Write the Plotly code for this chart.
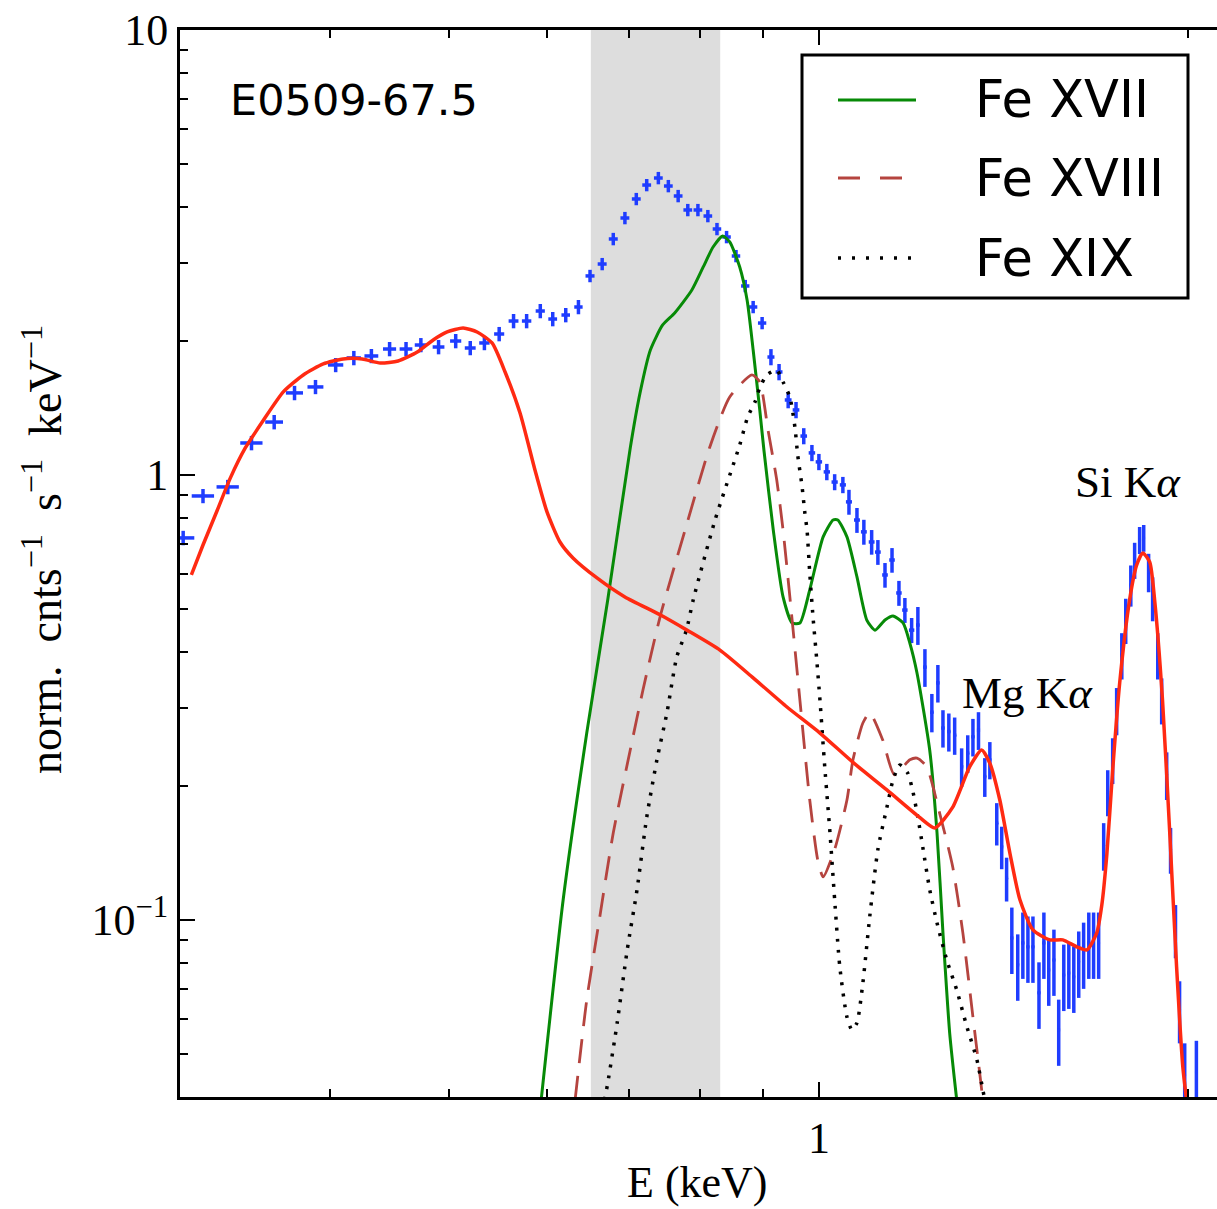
import math
import plotly.graph_objects as go

# ---------------- data (keV, norm. counts s^-1 keV^-1) ----------------
energy = [0.3035, 0.315, 0.330, 0.345, 0.360, 0.374, 0.389, 0.404, 0.418, 0.432,
          0.447, 0.461, 0.474, 0.490, 0.506, 0.520, 0.534, 0.549, 0.564, 0.578,
          0.593, 0.607, 0.622, 0.637, 0.651, 0.666, 0.680, 0.695, 0.710, 0.724,
          0.740, 0.754, 0.768, 0.782, 0.797, 0.812, 0.826, 0.841, 0.856, 0.871,
          0.884, 0.899, 0.914, 0.928, 0.944, 0.958, 0.972, 0.987, 1.000, 1.015,
          1.030, 1.046, 1.058, 1.074, 1.088, 1.104, 1.117, 1.132, 1.147, 1.162,
          1.175, 1.190, 1.204, 1.220, 1.236, 1.250, 1.262, 1.276, 1.290, 1.307,
          1.322, 1.335, 1.349, 1.365, 1.378, 1.396, 1.409, 1.422, 1.436, 1.452,
          1.466, 1.480, 1.494, 1.511, 1.525, 1.539, 1.554, 1.568, 1.583, 1.598,
          1.613, 1.628, 1.643, 1.659, 1.674, 1.690, 1.706, 1.719, 1.735, 1.748,
          1.765, 1.778, 1.795, 1.808, 1.825, 1.839, 1.856, 1.870, 1.888, 1.902,
          1.920, 1.934, 1.952, 1.967, 1.986, 2.030]

counts = [0.722, 0.897, 0.940, 1.180, 1.315, 1.529, 1.577, 1.767, 1.832, 1.851,
          1.919, 1.919, 1.959, 1.939, 2.000, 1.929, 1.980, 2.074, 2.218, 2.218,
          2.336, 2.241, 2.288, 2.385, 2.801, 2.979, 3.391, 3.780, 4.171, 4.483,
          4.649, 4.460, 4.236, 3.940, 3.940, 3.819, 3.571, 3.426, 3.105, 2.659,
          2.385, 2.195, 1.841, 1.704, 1.474, 1.400, 1.223, 1.121, 1.070, 1.016,
          0.964, 0.950, 0.870, 0.792, 0.745, 0.707, 0.671, 0.596, 0.644, 0.543,
          0.497, 0.448, 0.460, 0.370, 0.293, 0.341, 0.270, 0.265, 0.260, 0.221,
          0.237, 0.258, 0.267, 0.210, 0.229, 0.165, 0.146, 0.124, 0.0911, 0.0793,
          0.0888, 0.0870, 0.0870, 0.0686, 0.0888, 0.0772, 0.0813, 0.0566, 0.0752, 0.0760,
          0.0745, 0.0805, 0.0843, 0.0888, 0.0888, 0.0888, 0.147, 0.194, 0.229, 0.296,
          0.394, 0.472, 0.566, 0.644, 0.714, 0.722, 0.605, 0.529, 0.394, 0.312,
          0.212, 0.144, 0.0950, 0.0628, 0.0448, 0.0455]

counts_err = [0.027, 0.033, 0.035, 0.044, 0.049, 0.057, 0.058, 0.065, 0.068, 0.068,
              0.071, 0.071, 0.072, 0.072, 0.074, 0.071, 0.073, 0.077, 0.082, 0.082,
              0.086, 0.083, 0.085, 0.088, 0.090, 0.095, 0.109, 0.121, 0.133, 0.143,
              0.149, 0.143, 0.136, 0.126, 0.126, 0.122, 0.114, 0.110, 0.099, 0.085,
              0.076, 0.070, 0.077, 0.072, 0.062, 0.059, 0.051, 0.047, 0.045, 0.043,
              0.040, 0.040, 0.056, 0.051, 0.048, 0.045, 0.043, 0.038, 0.041, 0.035,
              0.032, 0.029, 0.045, 0.036, 0.029, 0.033, 0.026, 0.026, 0.025, 0.022,
              0.023, 0.025, 0.026, 0.021, 0.022, 0.018, 0.016, 0.014, 0.0155, 0.0135,
              0.0151, 0.0148, 0.0148, 0.0117, 0.0151, 0.0131, 0.0138, 0.0096, 0.0128, 0.0129,
              0.0127, 0.0137, 0.0143, 0.0151, 0.0151, 0.0151, 0.018, 0.023, 0.027, 0.036,
              0.047, 0.055, 0.060, 0.060, 0.050, 0.050, 0.060, 0.060, 0.047, 0.037,
              0.026, 0.017, 0.013, 0.010, 0.008, 0.008]

energy_err = [0.0064, 0.0066, 0.0069, 0.0072, 0.0060, 0.0060, 0.0058, 0.0058, 0.0056, 0.0056,
              0.0055, 0.0055, 0.0054, 0.0054, 0.0053, 0.0053, 0.0052, 0.0052, 0.0052, 0.0051,
              0.0051, 0.0050, 0.0050, 0.0050, 0.0055, 0.0056, 0.0057, 0.0058, 0.0059, 0.0060,
              0.0061, 0.0062, 0.0063, 0.0064, 0.0065, 0.0066, 0.0066, 0.0067, 0.0068, 0.0068,
              0.0069, 0.0070, 0.0060, 0.0060, 0.0060, 0.0060, 0.0060, 0.0060, 0.0060, 0.0060,
              0.0060, 0.0060, 0.0060, 0.0060, 0.0060, 0.0060, 0.0060, 0.0060, 0.0060, 0.0060,
              0.0060, 0.0060, 0.0040, 0.0040, 0.0040, 0.0040, 0.0040, 0.0040, 0.0040, 0.0040,
              0.0040, 0.0040, 0.0040, 0.0040, 0.0040, 0.0040, 0.0040, 0.0040, 0.0040, 0.0040,
              0.0040, 0.0040, 0.0040, 0.0040, 0.0040, 0.0040, 0.0040, 0.0040, 0.0040, 0.0040,
              0.0040, 0.0040, 0.0040, 0.0040, 0.0040, 0.0040, 0.0040, 0.0040, 0.0040, 0.0040,
              0.0040, 0.0040, 0.0040, 0.0040, 0.0040, 0.0040, 0.0040, 0.0040, 0.0040, 0.0040,
              0.0040, 0.0040, 0.0040, 0.0040, 0.0040, 0.0040]

# total model
model_e = [0.3082, 0.315, 0.3236, 0.3316, 0.3410, 0.3520, 0.3662, 0.3802, 0.3947, 0.4097,
           0.4246, 0.4392, 0.4542, 0.4708, 0.4851, 0.4980, 0.5131, 0.5267, 0.5417, 0.5551,
           0.5709, 0.5871, 0.6005, 0.6153, 0.6305, 0.6595, 0.695, 0.7424, 0.7807, 0.8306,
           0.884, 0.9418, 1.002, 1.066, 1.136, 1.208, 1.243, 1.285, 1.327, 1.357,
           1.378, 1.404, 1.431, 1.458, 1.494, 1.542, 1.580, 1.622, 1.653, 1.684,
           1.700, 1.716, 1.735, 1.758, 1.791, 1.815, 1.836, 1.860, 1.877, 1.905,
           1.931, 1.956, 1.979, 1.993]
model = [0.596, 0.696, 0.834, 0.985, 1.150, 1.315, 1.537, 1.678, 1.776, 1.823,
         1.823, 1.785, 1.804, 1.889, 2.011, 2.096, 2.140, 2.096, 1.980, 1.704,
         1.378, 1.026, 0.826, 0.707, 0.651, 0.587, 0.532, 0.485, 0.448, 0.404,
         0.350, 0.301, 0.263, 0.226, 0.196, 0.170, 0.161, 0.179, 0.221, 0.241,
         0.225, 0.186, 0.141, 0.111, 0.0950, 0.0902, 0.0902, 0.0870, 0.0856, 0.0935,
         0.108, 0.140, 0.217, 0.341, 0.524, 0.628, 0.668, 0.637, 0.524, 0.312,
         0.157, 0.0784, 0.0467, 0.0394]

# Fe XVII component
fe17_e = [0.594, 0.619, 0.647, 0.673, 0.702, 0.715, 0.729, 0.746, 0.763, 0.788,
          0.805, 0.820, 0.835, 0.846, 0.862, 0.874, 0.884, 0.895, 0.902, 0.918,
          0.935, 0.951, 0.965, 0.983, 1.008, 1.027, 1.036, 1.054, 1.074, 1.094,
          1.111, 1.132, 1.149, 1.171, 1.186, 1.202, 1.231, 1.248, 1.262, 1.278, 1.295]
fe17 = [0.0394, 0.111, 0.263, 0.524, 1.150, 1.529, 1.909, 2.173, 2.312, 2.604,
        2.934, 3.253, 3.444, 3.339, 2.934, 2.473, 1.909, 1.400, 1.138, 0.752,
        0.532, 0.465, 0.465, 0.552, 0.726, 0.792, 0.792, 0.726, 0.590, 0.472,
        0.448, 0.472, 0.482, 0.465, 0.419, 0.359, 0.241, 0.157, 0.0935, 0.0557, 0.0394]

# Fe XVIII component
fe18_e = [0.633, 0.647, 0.663, 0.680, 0.702, 0.719, 0.7424, 0.778, 0.815, 0.846,
          0.882, 0.895, 0.909, 0.924, 0.935, 0.947, 0.965, 0.983, 0.998, 1.008,
          1.030, 1.054, 1.066, 1.086, 1.100, 1.127, 1.152, 1.186, 1.202, 1.224,
          1.254, 1.285, 1.310, 1.335, 1.352, 1.360]
fe18 = [0.0394, 0.0661, 0.1016, 0.157, 0.241, 0.329, 0.480, 0.752, 1.156, 1.497,
        1.678, 1.618, 1.262, 0.974, 0.752, 0.532, 0.312, 0.186, 0.136, 0.125,
        0.144, 0.186, 0.229, 0.277, 0.292, 0.254, 0.212, 0.229, 0.231, 0.221,
        0.174, 0.132, 0.0935, 0.0605, 0.0453, 0.0394]

# Fe XIX component
fe19_e = [0.669, 0.673, 0.685, 0.698, 0.711, 0.724, 0.738, 0.752, 0.766, 0.780,
          0.790, 0.823, 0.862, 0.875, 0.887, 0.895, 0.907, 0.924, 0.935, 0.947,
          0.956, 0.961, 0.969, 0.974, 0.978, 0.983, 0.989, 0.996, 1.002, 1.011,
          1.021, 1.030, 1.040, 1.054, 1.064, 1.074, 1.086, 1.100, 1.117, 1.136,
          1.149, 1.164, 1.181, 1.192, 1.204, 1.215, 1.231, 1.248, 1.271, 1.295,
          1.320, 1.345, 1.360, 1.365]
fe19 = [0.0394, 0.0430, 0.0587, 0.0856, 0.117, 0.170, 0.229, 0.292, 0.390, 0.448,
        0.524, 0.792, 1.168, 1.350, 1.459, 1.569, 1.678, 1.721, 1.618, 1.497,
        1.282, 1.109, 0.940, 0.822, 0.752, 0.602, 0.480, 0.384, 0.312, 0.221,
        0.157, 0.111, 0.0784, 0.0605, 0.0566, 0.0587, 0.0722, 0.1016, 0.144, 0.179,
        0.206, 0.223, 0.214, 0.196, 0.170, 0.146, 0.117, 0.0985, 0.0813, 0.0696,
        0.0575, 0.0485, 0.0415, 0.0394]

band = [0.652, 0.831]   # shaded energy band (keV)

x_range = [0.3017, 2.11]
y_range = [0.04, 10]
y_major = [0.1, 1, 10]
y_major_text = ['10<sup>\u22121</sup>', '1', '10']
x_major = [1]
x_minor = [0.4, 0.5, 0.6, 0.7, 0.8, 0.9, 2]
y_minor = [0.05, 0.06, 0.07, 0.08, 0.09, 0.2, 0.3, 0.4, 0.5, 0.6, 0.7, 0.8, 0.9,
           2, 3, 4, 5, 6, 7, 8, 9]

legend_names = ['Fe XVII', 'Fe XVIII', 'Fe XIX']

BLUE = '#1f3dff'
RED = '#ff2a12'
GREEN = '#078a07'
BROWN = '#b5443f'
BLACK = '#000000'
SERIF = 'Liberation Serif'
SANS = 'DejaVu Sans'

fig = go.Figure()

# shaded band, drawn as a filled trace in data coordinates
fig.add_trace(go.Scatter(
    x=[band[0], band[0], band[1], band[1], band[0]],
    y=[y_range[0], y_range[1], y_range[1], y_range[0], y_range[0]],
    mode='lines', fill='toself', fillcolor='#dddddd', line=dict(width=0, color='#dddddd'),
    hoverinfo='skip', showlegend=False, name='band'))

fig.add_trace(go.Scatter(
    x=energy, y=counts, mode='markers',
    marker=dict(size=3, color=BLUE),
    error_y=dict(type='data', array=counts_err, visible=True, color=BLUE, thickness=3.5, width=0),
    error_x=dict(type='data', array=energy_err, visible=True, color=BLUE, thickness=3.5, width=0),
    showlegend=False, name='data'))

fig.add_trace(go.Scatter(x=fe17_e, y=fe17, mode='lines', name=legend_names[0],
                         line=dict(color=GREEN, width=3, shape='spline', smoothing=0.6)))
fig.add_trace(go.Scatter(x=fe18_e, y=fe18, mode='lines', name=legend_names[1],
                         line=dict(color=BROWN, width=2.8, dash='24px,13px', shape='spline', smoothing=0.6)))
fig.add_trace(go.Scatter(x=fe19_e, y=fe19, mode='lines', name=legend_names[2],
                         line=dict(color=BLACK, width=3.5, dash='3px,8px', shape='spline', smoothing=0.6)))
fig.add_trace(go.Scatter(x=model_e, y=model, mode='lines', name='model',
                         line=dict(color=RED, width=3.5, shape='spline', smoothing=0.6)))

# plot area geometry (pixels) for paper-coordinate placement
L, R, T, B = 180, 0, 30, 112
W, H = 1217, 1209
pw, ph = W - L - R, H - T - B


def px(xp):
    return (xp - L) / pw


def py(yp):
    return (H - B - yp) / ph


shapes = [
    # legend box
    dict(type='rect', xref='paper', yref='paper', x0=px(802), x1=px(1188), y0=py(298), y1=py(55),
         fillcolor='white', line=dict(color='black', width=3), layer='above'),
]
legend_styles = [dict(color=GREEN, width=3), dict(color=BROWN, width=2.8, dash='22px,20px'),
                 dict(color=BLACK, width=3.5, dash='3px,11px')]
legend_rows = [100, 178, 258]
annotations = []
for name, style, row in zip(legend_names, legend_styles, legend_rows):
    shapes.append(dict(type='line', xref='paper', yref='paper', x0=px(838), x1=px(916),
                       y0=py(row), y1=py(row), line=style, layer='above'))
    annotations.append(dict(xref='paper', yref='paper', x=px(973), y=py(row), text=name,
                            showarrow=False, xanchor='left', yanchor='middle',
                            font=dict(family=SANS, size=51, color='black')))

annotations += [
    dict(xref='paper', yref='paper', x=px(228), y=py(100), text='E0509-67.5', showarrow=False,
         xanchor='left', yanchor='middle', font=dict(family=SANS, size=43, color='black')),
    dict(xref='paper', yref='paper', x=px(960), y=py(693), text='Mg K<i>\u03b1</i>', showarrow=False,
         xanchor='left', yanchor='middle', font=dict(family=SERIF, size=45, color='black')),
    dict(xref='paper', yref='paper', x=px(1073), y=py(482), text='Si K<i>\u03b1</i>', showarrow=False,
         xanchor='left', yanchor='middle', font=dict(family=SERIF, size=45, color='black')),
    dict(xref='paper', yref='paper', x=px(697), y=py(1182), text='E (keV)', showarrow=False,
         xanchor='center', yanchor='middle', font=dict(family=SERIF, size=44, color='black')),
    dict(xref='paper', yref='paper', x=px(42), y=py(550),
         text='norm.  cnts<sup>\u22121</sup>  s<sup>\u22121</sup>  keV<sup>\u22121</sup>',
         showarrow=False, textangle=-90, xanchor='center', yanchor='middle',
         font=dict(family=SERIF, size=46, color='black')),
]

fig.update_layout(
    width=W, height=H,
    margin=dict(l=L, r=R, t=T, b=B, pad=0),
    paper_bgcolor='white', plot_bgcolor='white',
    showlegend=False,
    shapes=shapes, annotations=annotations,
    xaxis=dict(type='log', range=[math.log10(x_range[0]), math.log10(x_range[1])],
               tickmode='array', tickvals=x_major, ticktext=['1'],
               ticks='inside', ticklen=15, tickwidth=2, tickcolor='black',
               showline=True, linewidth=3, linecolor='black', mirror='allticks',
               showgrid=False, zeroline=False,
               tickfont=dict(family=SERIF, size=44, color='black'),
               minor=dict(tickmode='array', tickvals=x_minor, ticks='inside', ticklen=8,
                          tickwidth=2, tickcolor='black', showgrid=False)),
    yaxis=dict(type='log', range=[math.log10(y_range[0]), math.log10(y_range[1])],
               tickmode='array', tickvals=y_major, ticktext=y_major_text,
               ticks='inside', ticklen=15, tickwidth=2, tickcolor='black',
               showline=True, linewidth=3, linecolor='black', mirror=False,
               showgrid=False, zeroline=False,
               tickfont=dict(family=SERIF, size=44, color='black'),
               minor=dict(tickmode='array', tickvals=y_minor, ticks='inside', ticklen=8,
                          tickwidth=2, tickcolor='black', showgrid=False)),
)

fig.write_html('out.html')
